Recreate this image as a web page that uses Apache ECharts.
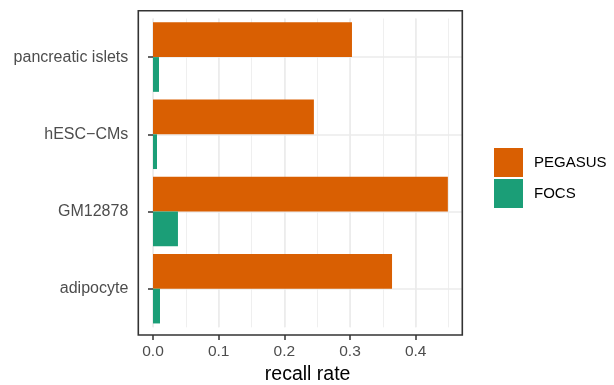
<!DOCTYPE html>
<html>
<head>
<meta charset="utf-8">
<script src="https://cdn.jsdelivr.net/npm/echarts@6/dist/echarts.min.js"></script>
<style>
html,body{margin:0;padding:0;background:#fff;}
#chart{width:614px;height:385px;}
</style>
</head>
<body>
<div id="chart"></div>
<script>
// Categories listed bottom to top
var categories = ['adipocyte', 'GM12878', 'hESC\u2212CMs', 'pancreatic islets'];
var pegasusValues = [0.364, 0.449, 0.245, 0.303];
var focsValues = [0.0107, 0.038, 0.0061, 0.0091];
var xTicks = [0.0, 0.1, 0.2, 0.3, 0.4];
var seriesNames = ['PEGASUS', 'FOCS'];
var xTitle = 'recall rate';

var FONT = '"Liberation Sans", Arial, Helvetica, sans-serif';
var chart = echarts.init(document.getElementById('chart'), null, {renderer: 'canvas'});

var xMax = 0.471;
var option = {
  backgroundColor: '#ffffff',
  animation: false,
  textStyle: {fontFamily: FONT},
  grid: [
    // frame (panel border)
    {left: 138.3, width: 324, top: 10.8, height: 324.2, show: true, z: 10,
     outerBoundsMode: 'none', containLabel: false,
     backgroundColor: 'transparent', borderColor: '#333333', borderWidth: 1.6},
    // data area
    {left: 153, width: 309.3, top: 18.5, height: 308.8,
     outerBoundsMode: 'none', containLabel: false}
  ],
  xAxis: [
    {gridIndex: 0, type: 'value', min: 0, max: 1, show: false},
    // minor vertical gridlines
    {gridIndex: 1, type: 'value', min: 0, max: xMax, interval: 0.05,
     axisLine: {show: false}, axisTick: {show: false}, axisLabel: {show: false},
     splitLine: {show: true, showMaxLine: false, lineStyle: {color: '#ebebeb', width: 0.8}}},
    // main x axis
    {gridIndex: 1, type: 'value', min: 0, max: xMax, interval: 0.1, offset: 7.7,
     position: 'bottom',
     name: xTitle, nameLocation: 'middle', nameGap: 25,
     nameTextStyle: {color: '#000000', fontSize: 19.5, fontFamily: FONT},
     axisLine: {show: false},
     axisTick: {show: true, length: 5, lineStyle: {color: '#333333', width: 1.5}},
     axisLabel: {show: true, margin: 9, color: '#4d4d4d', fontSize: 15.5, fontFamily: FONT,
       showMaxLabel: false,
       formatter: function (v) { return xTicks.indexOf(Math.round(v * 10) / 10) >= 0 && Math.abs(v * 10 - Math.round(v * 10)) < 1e-6 ? v.toFixed(1) : ''; }},
     splitLine: {show: true, showMaxLine: false, lineStyle: {color: '#ebebeb', width: 1.6}}}
  ],
  yAxis: [
    {gridIndex: 0, type: 'value', show: false},
    // horizontal gridlines at category centres
    {gridIndex: 1, type: 'value', min: 0, max: 4, interval: 1,
     axisLine: {show: false}, axisTick: {show: false}, axisLabel: {show: false},
     splitLine: {show: false},
     minorTick: {show: false, splitNumber: 2},
     minorSplitLine: {show: true, lineStyle: {color: '#ebebeb', width: 1.6}}},
    {gridIndex: 1, type: 'category', data: categories, offset: 14.7, position: 'left',
     axisLine: {show: false},
     axisTick: {show: true, alignWithLabel: true, length: 5, lineStyle: {color: '#333333', width: 1.5}},
     axisLabel: {show: true, margin: 10, color: '#4d4d4d', fontSize: 16, fontFamily: FONT},
     splitLine: {show: false}}
  ],
  legend: {
    orient: 'vertical', left: 489, top: 143, itemWidth: 29, itemHeight: 29, itemGap: 2,
    icon: 'rect', data: seriesNames,
    textStyle: {color: '#000000', fontSize: 15, fontFamily: FONT, padding: [0, 0, 0, 6]}
  },
  series: [
    {name: seriesNames[0], type: 'bar', xAxisIndex: 2, yAxisIndex: 2, data: pegasusValues,
     barGap: '0%', barCategoryGap: '10%', itemStyle: {color: '#D95F02'}},
    {name: seriesNames[1], type: 'bar', xAxisIndex: 2, yAxisIndex: 2, data: focsValues,
     barGap: '0%', barCategoryGap: '10%', itemStyle: {color: '#1B9E77'}}
  ]
};
chart.setOption(option);
</script>
</body>
</html>
